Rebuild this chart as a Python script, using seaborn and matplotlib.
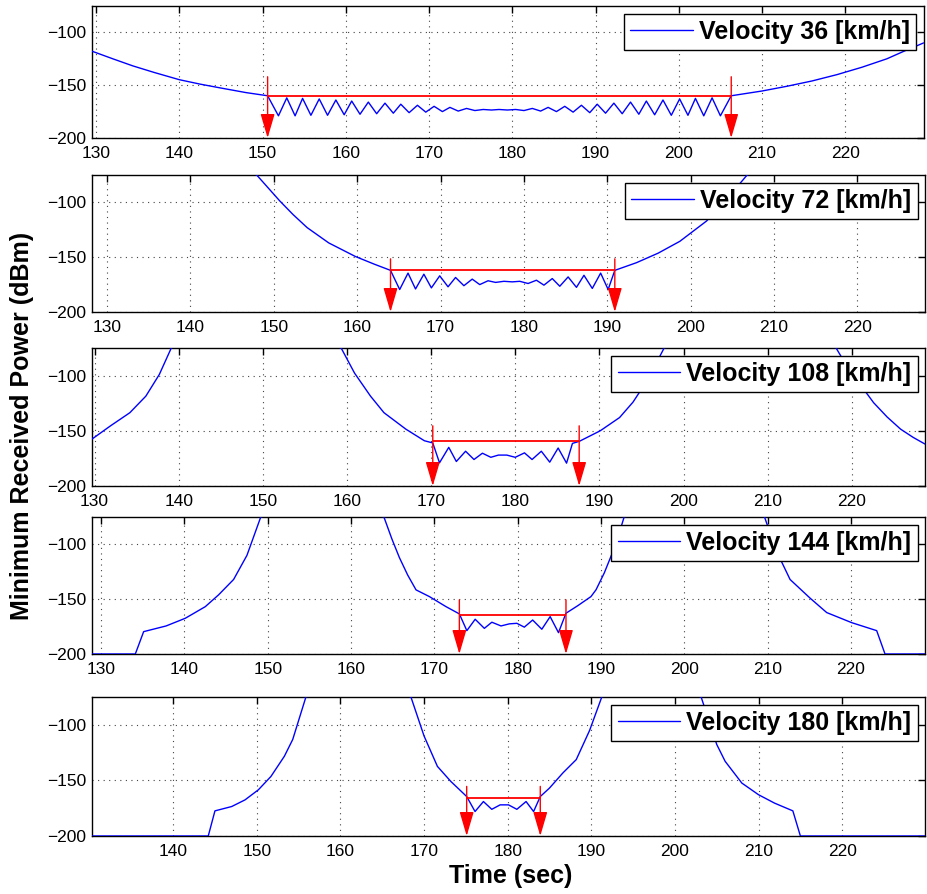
import matplotlib
matplotlib.use("Agg")
import matplotlib.pyplot as plt
import seaborn as sns
import pandas as pd
from matplotlib.ticker import MultipleLocator

# ---------------- data ----------------
velocities = [36, 72, 108, 144, 180]

v36_time = [129.5, 132.0, 134.4, 137.0, 140.0, 142.5, 145.0, 148.0, 150.6,
            151.9, 152.9, 153.9, 154.8, 155.8, 156.8, 157.8, 158.8, 159.8, 160.7,
            161.7, 162.7, 163.7, 164.7, 165.7, 166.6, 167.6, 168.6, 169.6, 170.6,
            171.6, 172.5, 173.5, 174.5, 175.5, 176.5, 177.5, 178.4, 179.4, 180.4,
            181.4, 182.4, 183.4, 184.3, 185.3, 186.3, 187.3, 188.3, 189.3, 190.2,
            191.2, 192.2, 193.2, 194.2, 195.2, 196.1, 197.1, 198.1, 199.1, 200.1,
            201.1, 202.0, 203.0, 204.0, 205.0,
            206.3, 210.0, 213.0, 216.0, 219.0, 222.0, 225.0, 227.0, 229.4]
v36_power = [-117.8, -125.0, -131.7, -138.0, -144.8, -149.0, -152.7, -157.0, -160.0,
             -179, -162, -179, -162.5, -178.5, -163, -178.5, -164, -178, -165,
             -177.5, -166, -177, -167, -176.5, -168, -176, -169, -175.5, -170,
             -175, -171, -174.5, -172, -174, -173, -173.5, -173, -173.5, -173,
             -174, -172, -174.5, -171, -175, -170, -175.5, -169, -176, -168,
             -176.5, -167, -177, -166, -177.5, -165, -178, -164, -178.5, -163,
             -178.5, -162.5, -179, -162, -179,
             -160.0, -155.5, -151.0, -146.0, -140.0, -133.0, -125.0, -118.0, -110.0]

v72_time = [147.6, 150.7, 152.3, 154.0, 156.6, 159.8, 162.1, 164.0,
            165.1, 166.1, 167.0, 168.0, 168.9, 169.9, 170.9, 171.8, 172.8, 173.8,
            174.7, 175.7, 176.6, 177.6, 178.6, 179.5, 180.5, 181.5, 182.4, 183.4,
            184.3, 185.3, 186.3, 187.2, 188.2, 189.2, 190.1,
            190.9, 193.5, 196.1, 198.7, 201.9, 204.5, 207.1]
v72_power = [-72, -98.5, -111, -123, -137, -149.4, -156.5, -162,
             -179.5, -164.5, -179, -165.5, -178, -167, -177, -168.5, -176, -170,
             -175, -171.5, -173, -172, -172.5, -172, -174, -171, -175.5, -169.5,
             -176.5, -168, -177.5, -166.5, -178.5, -164.5, -179.5,
             -162, -155, -146.3, -135.5, -117, -95.4, -72]

v108_time_a = [129.7, 131.9, 134.2, 136.1, 137.7, 139.3]
v108_power_a = [-157.5, -145.5, -133.6, -118.6, -99.0, -72.0]
v108_time_b = [159.1, 160.9, 162.8, 164.4, 167.0, 169.2, 170.2,
               171.0, 172.1, 173.0, 174.1, 175.1, 176.1, 177.1, 178.0, 179.0,
               180.0, 181.1, 182.0, 183.1, 184.1, 185.1, 186.1,
               186.8, 187.6, 190.1, 192.4, 194.0, 195.2, 196.2, 197.9]
v108_power_b = [-72, -97.7, -118.6, -133.6, -148.5, -159, -161,
                -179, -165, -177.8, -168.5, -176, -170.3, -174, -172, -172,
                -174, -170, -176, -168.5, -178.4, -165.6, -179.3,
                -161.4, -159.6, -150, -138, -124, -110, -97, -72]
v108_time_c = [217.9, 219.3, 220.7, 222.6, 224.2, 225.8, 227.3, 228.7]
v108_power_c = [-72, -90, -105, -124.6, -137.5, -148.5, -156, -162]

v144_time_a = [128.9, 134.1, 135.1, 137.8, 140.1, 142.5, 144.1, 145.9, 147.5, 149.3]
v144_power_a = [-200, -200, -179.6, -174.4, -167.4, -156.8, -146, -132, -110, -72]
v144_time_b = [163.8, 164.9, 165.8, 166.8, 167.8, 169.4, 171.4, 173.0,
               173.9, 174.9, 176.0, 176.9, 178.0, 179.0, 179.9, 180.8, 181.8,
               182.9, 183.9, 184.9, 185.8, 187.2, 188.8, 189.4, 190.4, 191.3, 192.1, 192.9]
v144_power_b = [-72, -95, -112, -128, -141.5, -147.6, -156.8, -163.4,
                -178.7, -168.3, -176.6, -171, -174.4, -172.5, -172, -175.5, -169,
                -177.4, -165.9, -180.5, -162.8, -156, -147.6, -141.5, -126, -109, -92, -72]
v144_time_c = [209.5, 211.0, 212.7, 215.1, 217.1, 220.1, 223.1, 224.1, 228.9]
v144_power_c = [-72, -105, -132, -149, -162.2, -171.4, -178.7, -200, -200]

v180_time_a = [130.3, 144.2, 145.0, 147.0, 148.6, 150.2, 151.7, 153.3, 154.3, 156.0]
v180_power_a = [-200, -200, -177.4, -173.5, -167.5, -158.4, -146.4, -128.3, -113.2, -72]
v180_time_b = [168.3, 170.0, 171.6, 173.2, 175.1, 176.1, 177.1, 178.1, 179.1,
               180.1, 181.1, 182.2, 183.1, 183.9, 185.0, 186.6, 188.2, 189.8, 191.4]
v180_power_b = [-72, -110, -137.4, -150.9, -164.5, -178, -169, -176, -172,
                -172, -176, -169, -178, -164.5, -156.9, -143.3, -131.3, -105, -72]
v180_time_c = [203.0, 205.0, 206.0, 208.0, 210.0, 211.9, 214.1, 215.0, 229.9]
v180_power_c = [-72, -117.7, -132.8, -152.4, -162.9, -170.4, -177.4, -200, -200]

# red threshold line and arrows per panel
thr_level = [-160.0, -162.0, -159.6, -164.4, -165.9]
arrow_left = [150.6, 164.0, 170.2, 173.0, 175.1]
arrow_right = [206.3, 190.9, 187.6, 185.8, 183.9]
arrow_top = [-142.0, -151.5, -145.5, -150.6, -155.4]

x_limits = [(129.5, 229.4), (128.2, 228.1), (129.7, 228.7), (128.9, 228.9), (130.3, 229.9)]
y_ticks = [-200, -150, -100]

segments = [
    [(v36_time, v36_power)],
    [(v72_time, v72_power)],
    [(v108_time_a, v108_power_a), (v108_time_b, v108_power_b), (v108_time_c, v108_power_c)],
    [(v144_time_a, v144_power_a), (v144_time_b, v144_power_b), (v144_time_c, v144_power_c)],
    [(v180_time_a, v180_power_a), (v180_time_b, v180_power_b), (v180_time_c, v180_power_c)],
]

# ---------------- figure ----------------
sns.set_style("white")
plt.rcParams["font.family"] = ["Liberation Sans", "DejaVu Sans"]
plt.rcParams["text.color"] = "black"
plt.rcParams["axes.labelcolor"] = "black"
plt.rcParams["xtick.color"] = "black"
plt.rcParams["ytick.color"] = "black"

W, H = 927, 894
fig = plt.figure(figsize=(W / 100, H / 100), dpi=100)

# axes boxes in pixels: (left, top, right, bottom)
boxes = [(92, 6, 923.5, 138), (92, 175, 925, 312), (92, 348, 925, 486),
         (92, 517, 925, 654), (92, 697, 925, 836)]

for i, vel in enumerate(velocities):
    l, t, r, b = boxes[i]
    ax = fig.add_axes([l / W, 1 - b / H, (r - l) / W, (b - t) / H])
    for tt, pp in segments[i]:
        df = pd.DataFrame({"time": tt, "power": pp})
        sns.lineplot(data=df, x="time", y="power", ax=ax, color="blue",
                     linewidth=1.0, estimator=None, sort=False, zorder=3)
    first = ax.lines[0]

    # red threshold line
    ax.plot([arrow_left[i], arrow_right[i]], [thr_level[i], thr_level[i]],
            color="red", linewidth=1.3, zorder=4, solid_capstyle="butt")
    for xa in (arrow_left[i], arrow_right[i]):
        ax.annotate("", xy=(xa, -200), xytext=(xa, arrow_top[i]),
                    arrowprops=dict(arrowstyle="-|>,head_length=0.75,head_width=0.22",
                                    color="red", lw=1.0, shrinkA=0, shrinkB=0,
                                    mutation_scale=20),
                    zorder=5, annotation_clip=False)

    ax.set_xlim(*x_limits[i])
    ax.set_ylim(-200, -75)
    ax.xaxis.set_major_locator(MultipleLocator(10))
    ax.set_yticks(y_ticks)
    ax.set_xlabel("")
    ax.set_ylabel("")
    ax.grid(True, color="#444444", linestyle=(0, (1, 4)), linewidth=0.8)
    ax.tick_params(direction="in", length=5, width=1, top=True, right=True,
                   labelsize=12.5, pad=4, colors="black")
    ax.tick_params(axis="x", pad=6)
    for s in ax.spines.values():
        s.set_color("black")
        s.set_linewidth(1.0)
        s.set_zorder(2.5)

    leg = ax.legend([first], [f"Velocity {vel} [km/h]"], loc="upper right",
                    prop={"weight": "bold", "size": 18}, frameon=True,
                    fancybox=False, framealpha=1, edgecolor="black",
                    handlelength=2.5, handletextpad=0.25, borderpad=0.25,
                    borderaxespad=0.3)
    leg.get_frame().set_linewidth(1.0)
    leg.set_zorder(10)
    for txt in leg.get_texts():
        txt.set_color("black")

fig.text(511 / W, 1 - 876 / H, "Time (sec)", ha="center", va="center",
         fontsize=18, fontweight="bold", color="black")
fig.text(22 / W, 1 - 426 / H, "Minimum Received Power (dBm)", ha="center",
         va="center", rotation=90, fontsize=18, fontweight="bold", color="black")

fig.savefig("out.png", dpi=100)
